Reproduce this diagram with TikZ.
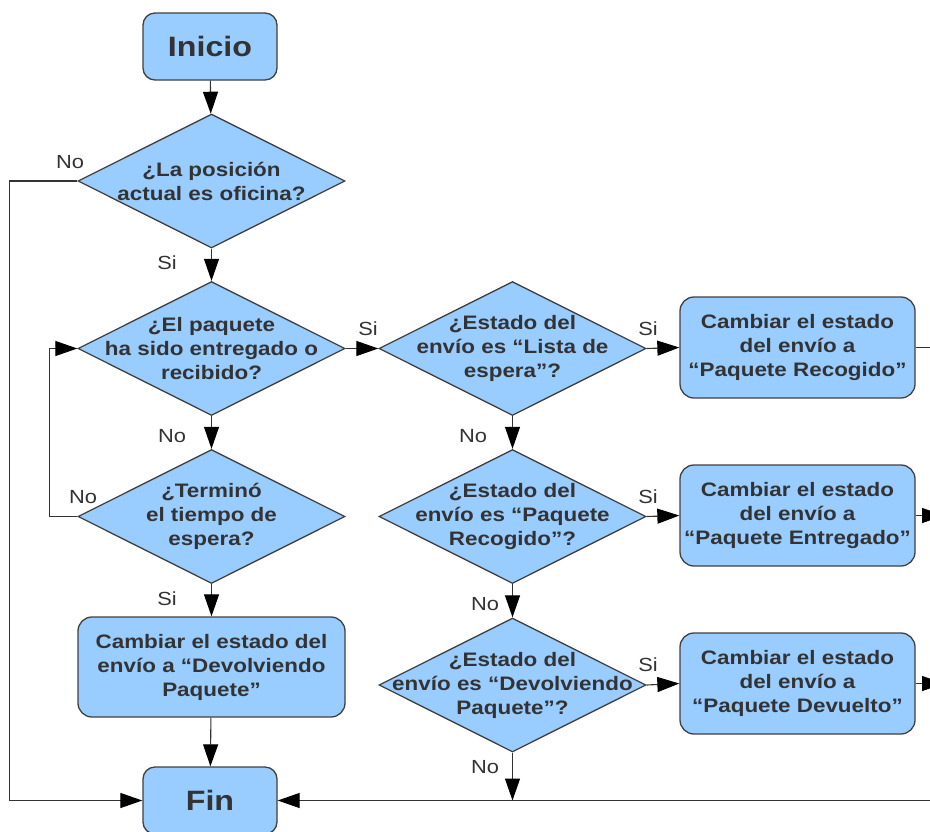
\documentclass[tikz,border=0pt]{standalone}
\usepackage{fontspec}
\setmainfont{Liberation Sans}[FakeStretch=1.15]
\usetikzlibrary{shapes.geometric,arrows.meta}

\definecolor{boxfill}{HTML}{99CCFF}
\definecolor{ink}{HTML}{333333}
\definecolor{rim}{HTML}{404040}
\definecolor{wire}{HTML}{333333}

\tikzset{
  shapebase/.style={draw=rim, line width=1.3pt, fill=boxfill, text=ink},
  endbox/.style={shapebase, rounded corners=12pt, minimum width=134pt,
    minimum height=67pt, inner sep=0pt,
    font=\fontsize{28}{32}\selectfont\bfseries},
  procbox/.style={shapebase, rounded corners=14pt, minimum width=235pt,
    minimum height=101pt, inner sep=0pt, align=center,
    font=\fontsize{19.5}{24}\selectfont\bfseries},
  dia/.style={shapebase, diamond, minimum width=267pt, minimum height=134pt,
    inner sep=0pt},
  diatext/.style={text=ink, align=center,
    font=\fontsize{19.5}{24}\selectfont\bfseries},
  wireline/.style={draw=wire, line width=1.1pt},
  flow/.style={wireline, -{Triangle[length=22pt,width=15pt,color=black]}},
  tag/.style={text=ink, font=\fontsize{19}{22}\selectfont, inner sep=0pt},
}

\begin{document}
\begin{tikzpicture}[x=1pt,y=-1pt]
\useasboundingbox (0,0) rectangle (930,831);

% start and end
\node[endbox] (start) at (210,46.5) {Inicio};
\node[endbox] (fin) at (210,800.5) {Fin};

% left column
\node[dia, label={[diatext]center:{¿La posición\\actual es oficina?}}] (d1) at (211.5,181) {};
\node[dia, label={[diatext]center:{¿El paquete\\ha sido entregado o\\recibido?}}] (d2) at (211.5,348.5) {};
\node[dia, label={[diatext]center:{¿Terminó\\el tiempo de\\espera?}}] (d3) at (211.5,516.5) {};
\node[procbox, minimum width=267pt, minimum height=100pt] (back) at (211.5,667)
  {Cambiar el estado del\\envío a “Devolviendo\\Paquete”};

% middle column
\node[dia, label={[diatext]center:{¿Estado del\\envío es “Lista de\\espera”?}}] (d4) at (512.5,348.5) {};
\node[dia, label={[diatext]center:{¿Estado del\\envío es “Paquete\\Recogido”?}}] (d5) at (512.5,516.5) {};
\node[dia, label={[diatext]center:{¿Estado del\\envío es “Devolviendo\\Paquete”?}}] (d6) at (512.5,685) {};

% right column
\node[procbox] (r1) at (797.5,347.5) {Cambiar el estado\\del envío a\\“Paquete Recogido”};
\node[procbox] (r2) at (797.5,515.5) {Cambiar el estado\\del envío a\\“Paquete Entregado”};
\node[procbox] (r3) at (797.5,683.5) {Cambiar el estado\\del envío a\\“Paquete Devuelto”};

% free ends at the right border and the junction on the bottom line
\coordinate (out1) at (931,347.5);
\coordinate (out2) at (944,515.5);
\coordinate (out3) at (944,683.5);
\coordinate (inbottom) at (931,800.5);
\coordinate (join) at (512.5,800.5);

% connectors
\draw[flow] (start) -- (d1);
\draw[flow] (d1) -- (d2);
\draw[flow] (d1.west) -- ++(-68,0) |- (fin.west);
\draw[flow] (d2) -- (d3);
\draw[flow] (d3.west) -- ++(-28,0) |- (d2.west);
\draw[flow] (d3) -- (back);
\draw[flow] (back) -- (fin);
\draw[flow] (d2.east) -- (d4.west);
\draw[flow] (d4.east) -- (r1.west);
\draw[flow] (d4) -- (d5);
\draw[flow] (d5.east) -- (r2.west);
\draw[flow] (d5) -- (d6);
\draw[flow] (d6.east) -- (r3.west);
\draw[flow] (d6.south) -- (join);
\draw[flow] (inbottom) -- (fin.east);
\draw[wireline] (r1.east) -- (out1);
\draw[flow] (r2.east) -- (out2);
\draw[flow] (r3.east) -- (out3);

% branch labels
\node[tag] (l1) at (70,162) {No};
\node[tag] (l2) at (167,263) {Si};
\node[tag] (l3) at (368,329) {Si};
\node[tag] (l4) at (648,329) {Si};
\node[tag] (l5) at (172,436) {No};
\node[tag] (l6) at (473,436) {No};
\node[tag] (l7) at (83,497) {No};
\node[tag] (l8) at (648,497) {Si};
\node[tag] (l9) at (167,599) {Si};
\node[tag] (l10) at (485,604) {No};
\node[tag] (l11) at (648,665) {Si};
\node[tag] (l12) at (485,767) {No};
\end{tikzpicture}
\end{document}
